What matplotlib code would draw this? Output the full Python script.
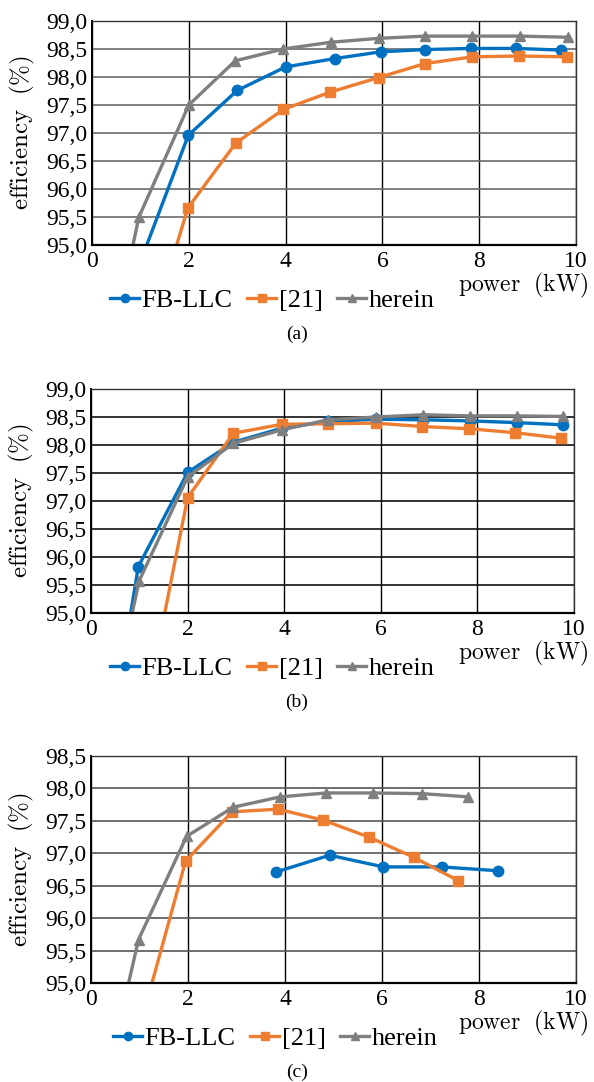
import numpy as np
import matplotlib.pyplot as plt

plt.rcParams['font.family'] = ['Liberation Serif', 'DejaVu Serif']
plt.rcParams['mathtext.fontset'] = 'cm'

series_names = ['FB-LLC', '[21]', 'herein']
x_ticks = [0, 2, 4, 6, 8, 10]

# panel (a)
a_fb_x = [1.0, 1.99, 3.0, 4.0, 5.02, 5.97, 6.88, 7.84, 8.77, 9.7]
a_fb_y = [94.7, 96.96, 97.76, 98.18, 98.33, 98.45, 98.49, 98.51, 98.51, 98.48]
a_ref_x = [1.0, 1.98, 2.97, 3.95, 4.92, 5.92, 6.88, 7.86, 8.83, 9.81]
a_ref_y = [92.85, 95.66, 96.82, 97.42, 97.73, 97.99, 98.24, 98.36, 98.375, 98.36]
a_her_x = [0.5, 0.97, 2.0, 2.96, 3.95, 4.93, 5.92, 6.88, 7.86, 8.84, 9.84]
a_her_y = [93.6, 95.5, 97.5, 98.29, 98.5, 98.62, 98.69, 98.73, 98.73, 98.73, 98.71]
a_y_ticks = [95.0, 95.5, 96.0, 96.5, 97.0, 97.5, 98.0, 98.5, 99.0]

# panel (b)
b_fb_x = [0.5, 0.98, 2.0, 2.95, 3.95, 4.91, 5.9, 6.88, 7.85, 8.81, 9.78]
b_fb_y = [93.3, 95.83, 97.51, 98.05, 98.3, 98.42, 98.46, 98.45, 98.43, 98.40, 98.36]
b_ref_x = [1.0, 2.0, 2.95, 3.95, 4.91, 5.9, 6.86, 7.83, 8.78, 9.74]
b_ref_y = [92.7, 97.06, 98.21, 98.37, 98.38, 98.39, 98.33, 98.29, 98.22, 98.12]
b_her_x = [0.5, 1.0, 2.0, 2.95, 3.95, 4.91, 5.9, 6.88, 7.85, 8.81, 9.78]
b_her_y = [93.6, 95.58, 97.43, 98.03, 98.27, 98.45, 98.5, 98.54, 98.52, 98.52, 98.51]
b_y_ticks = [95.0, 95.5, 96.0, 96.5, 97.0, 97.5, 98.0, 98.5, 99.0]

# panel (c)
c_fb_x = [3.81, 4.92, 6.03, 7.23, 8.4]
c_fb_y = [96.71, 96.97, 96.79, 96.79, 96.73]
c_ref_x = [1.0, 1.95, 2.91, 3.86, 4.79, 5.73, 6.65, 7.57]
c_ref_y = [94.3, 96.88, 97.64, 97.68, 97.51, 97.25, 96.94, 96.58]
c_her_x = [0.5, 0.98, 1.97, 2.93, 3.9, 4.85, 5.81, 6.82, 7.78]
c_her_y = [94.1, 95.67, 97.26, 97.71, 97.87, 97.93, 97.93, 97.92, 97.87]
c_y_ticks = [95.0, 95.5, 96.0, 96.5, 97.0, 97.5, 98.0, 98.5]

COLORS = ['#0070c0', '#ed7d31', '#7f7f7f']
MARKERS = [('o', 7.5), ('s', 7), ('^', 7.5)]
W, H = 594, 1082


def draw_panel(fig, box, series, y_ticks, hgrid_color, caption, legend_x):
    left, top, right, bottom = box
    ax = fig.add_axes([left / W, 1 - bottom / H, (right - left) / W, (bottom - top) / H])
    for (xs, ys), color, (mk, ms), name in zip(series, COLORS, MARKERS, series_names):
        ax.plot(xs, ys, color=color, lw=2.4, marker=mk, ms=ms, label=name)

    ax.set_xlim(0, 10)
    ax.set_ylim(y_ticks[0], y_ticks[-1])
    ax.set_xticks(x_ticks)
    ax.set_yticks(y_ticks)
    ax.set_yticklabels([f"{v:.1f}".replace('.', ',') for v in y_ticks])
    ax.tick_params(length=0, labelsize=17)
    ax.tick_params(axis='x', pad=4)
    ax.tick_params(axis='y', pad=3)
    ax.grid(axis='x', color='black', lw=1.0)
    ax.grid(axis='y', color=hgrid_color, lw=1.2)
    ax.set_axisbelow(True)
    for sp in ax.spines.values():
        sp.set_color('#333333')
        sp.set_linewidth(1.0)
    ax.spines['bottom'].set_color('black')
    ax.spines['bottom'].set_linewidth(1.6)
    ax.spines['left'].set_color('black')
    ax.spines['left'].set_linewidth(1.4)

    ax.set_ylabel(r'$\mathrm{efficiency}\ \ (\%)$', fontsize=18)
    ax.yaxis.set_label_coords(-0.113, 0.5)

    fig.text(458 / W, 1 - (bottom + 40) / H, r'$\mathrm{power}\ \ (\mathrm{kW})$',
             fontsize=17, ha='left', va='center')
    fig.legend(*ax.get_legend_handles_labels(), loc='center left',
               bbox_to_anchor=(legend_x / W, 1 - (bottom + 55) / H),
               ncol=3, frameon=False, fontsize=19, handlelength=1.1,
               handletextpad=0.1, columnspacing=0.55, borderpad=0,
               borderaxespad=0, numpoints=1, markerscale=0.8)
    fig.text(0.5, 1 - (bottom + 89) / H, caption, fontsize=14, ha='center', va='center')
    return ax


def main():
    fig = plt.figure(figsize=(W / 100, H / 100), dpi=100)
    draw_panel(fig, (92, 21, 576, 245),
               [(a_fb_x, a_fb_y), (a_ref_x, a_ref_y), (a_her_x, a_her_y)],
               a_y_ticks, '#6a6a6a', '(a)', 110)
    draw_panel(fig, (91, 389, 574, 613),
               [(b_fb_x, b_fb_y), (b_ref_x, b_ref_y), (b_her_x, b_her_y)],
               b_y_ticks, '#111111', '(b)', 110)
    draw_panel(fig, (91, 756, 576, 983),
               [(c_fb_x, c_fb_y), (c_ref_x, c_ref_y), (c_her_x, c_her_y)],
               c_y_ticks, '#555555', '(c)', 113)
    fig.savefig('out.png', dpi=100)


if __name__ == "__main__":
    main()
